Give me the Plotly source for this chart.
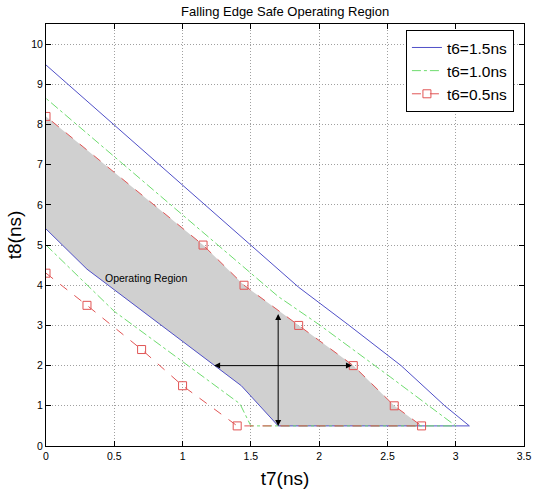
import plotly.graph_objects as go

# t6 = 1.5 ns (blue, solid): lower edge -> bottom -> upper edge
t7_15 = [0.0, 0.3, 1.43, 1.7, 3.1, 2.92, 2.6, 2.22, 1.85, 1.5, 0.0]
t8_15 = [5.4, 4.4, 1.5, 0.5, 0.5, 1.0, 2.0, 3.0, 3.95, 5.0, 9.48]

# t6 = 1.0 ns (green, dash-dot)
t7_10 = [0.0, 0.5, 1.0, 1.42, 1.5, 3.0, 2.52, 2.0, 1.7, 0.0]
t8_10 = [5.0, 3.35, 2.1, 1.05, 0.5, 0.5, 1.72, 3.02, 3.72, 8.65]

# t6 = 0.5 ns (red, dashed, square markers)
t7_05 = [0.0, 0.3, 0.7, 1.0, 1.4, 2.75, 2.55, 2.25, 1.85, 1.45, 1.15, 0.0]
t8_05 = [4.3, 3.5, 2.4, 1.5, 0.5, 0.5, 1.0, 2.0, 3.0, 4.0, 5.0, 8.2]

# Operating region: red upper edge, bottom, blue lower edge
region_t7 = [0.0, 1.15, 1.45, 1.85, 2.25, 2.55, 2.75, 1.7, 1.43, 0.3, 0.0]
region_t8 = [8.2, 5.0, 4.0, 3.0, 2.0, 1.0, 0.5, 0.5, 1.5, 4.4, 5.4]

x_ticks = [0, 0.5, 1, 1.5, 2, 2.5, 3, 3.5]
y_ticks = list(range(0, 11))

RED = "rgb(225,85,85)"
FONT = "Liberation Sans, Arial"

fig = go.Figure()
fig.add_trace(go.Scatter(x=region_t7, y=region_t8, fill="toself",
                         fillcolor="rgb(208,208,208)", mode="lines",
                         line=dict(width=0), showlegend=False, hoverinfo="skip"))
fig.add_trace(go.Scatter(x=t7_15, y=t8_15, mode="lines", name="t6=1.5ns",
                         line=dict(color="rgb(80,80,200)", width=1)))
fig.add_trace(go.Scatter(x=t7_10, y=t8_10, mode="lines", name="t6=1.0ns",
                         line=dict(color="rgb(110,220,110)", width=1, dash="dashdot")))
fig.add_trace(go.Scatter(x=t7_05, y=t8_05, mode="lines+markers", name="t6=0.5ns",
                         line=dict(color=RED, width=1, dash="dash"),
                         marker=dict(symbol="square-open", size=8, color=RED,
                                     line=dict(width=1, color=RED))))

# double-headed arrows
fig.add_annotation(x=1.7, y=0.5, ax=1.7, ay=3.32, axref="x", ayref="y",
                   xref="x", yref="y", text="", showarrow=True,
                   arrowhead=2, arrowsize=1.2, arrowwidth=1, arrowcolor="black",
                   arrowside="end+start", standoff=0, startstandoff=0)
fig.add_annotation(x=2.24, y=2.0, ax=1.22, ay=2.0, axref="x", ayref="y",
                   xref="x", yref="y", text="", showarrow=True,
                   arrowhead=2, arrowsize=1.2, arrowwidth=1, arrowcolor="black",
                   arrowside="end+start", standoff=0, startstandoff=0)
fig.add_annotation(x=0.73, y=4.17, xref="x", yref="y", text="Operating Region",
                   showarrow=False, font=dict(size=10.5, color="black", family=FONT))

axis_common = dict(showline=True, linecolor="black", linewidth=1, mirror="ticks",
                   ticks="inside", ticklen=5, tickcolor="black",
                   showgrid=True, gridcolor="rgb(160,160,160)", griddash="1px,2px",
                   gridwidth=1, zeroline=False, automargin=False,
                   ticklabeloverflow="allow",
                   tickfont=dict(size=10.5, color="black", family=FONT))

fig.update_xaxes(range=[0, 3.5], tickvals=x_ticks,
                 ticktext=[str(v) for v in x_ticks],
                 title=dict(text="t7(ns)", font=dict(size=19, color="black", family=FONT),
                            standoff=11),
                 **axis_common)
fig.update_yaxes(range=[0, 10.5], tickvals=y_ticks,
                 title=dict(text="t8(ns)", font=dict(size=19, color="black", family=FONT),
                            standoff=4),
                 **axis_common)

fig.update_layout(
    width=535, height=490,
    margin=dict(l=46, r=11, t=24, b=44),
    paper_bgcolor="white", plot_bgcolor="white",
    title=dict(text="Falling Edge Safe Operating Region", x=0.533, xanchor="center",
               y=0.977, yanchor="middle",
               font=dict(size=13, color="black", family=FONT)),
    legend=dict(x=0.753, y=0.986, xanchor="left", yanchor="top",
                bgcolor="white", bordercolor="black", borderwidth=1,
                font=dict(size=15.5, color="black", family=FONT),
                tracegroupgap=0, itemwidth=30),
    showlegend=True,
)

fig.write_html("out.html", config={"displayModeBar": False},
               post_script="document.body.style.margin='0';document.body.style.padding='0';")
